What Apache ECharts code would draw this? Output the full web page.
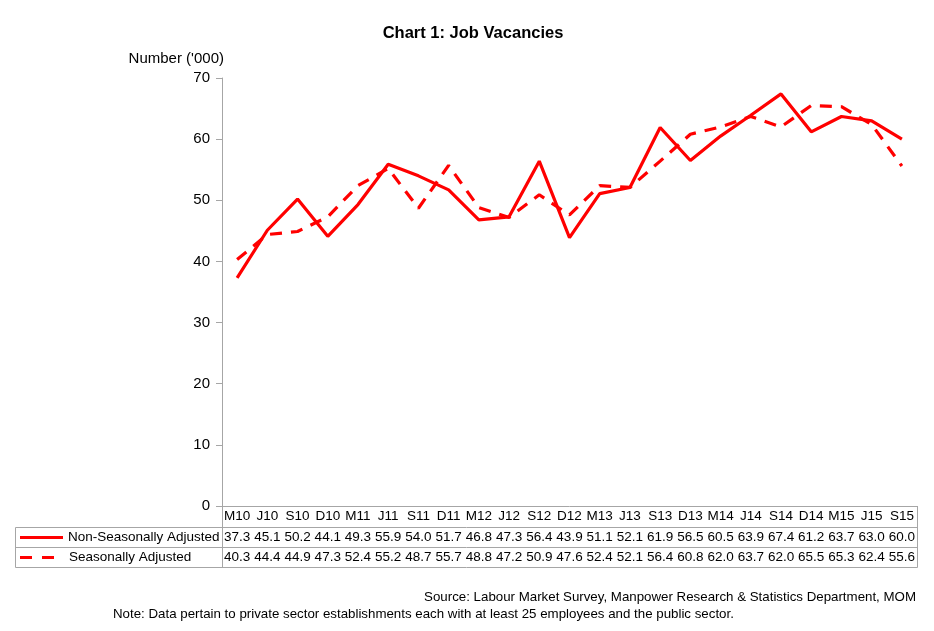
<!DOCTYPE html>
<html>
<head>
<meta charset="utf-8">
<script src="https://cdn.jsdelivr.net/npm/echarts@6/dist/echarts.min.js"></script>
<style>
html,body{margin:0;padding:0;background:#fff;}
#chart{width:934px;height:631px;}
</style>
</head>
<body>
<div id="chart"></div>
<script>
const categories = ['M10','J10','S10','D10','M11','J11','S11','D11','M12','J12','S12','D12','M13','J13','S13','D13','M14','J14','S14','D14','M15','J15','S15'];
const nonSeasonallyAdjusted = [37.3,45.1,50.2,44.1,49.3,55.9,54.0,51.7,46.8,47.3,56.4,43.9,51.1,52.1,61.9,56.5,60.5,63.9,67.4,61.2,63.7,63.0,60.0];
const seasonallyAdjusted = [40.3,44.4,44.9,47.3,52.4,55.2,48.7,55.7,48.8,47.2,50.9,47.6,52.4,52.1,56.4,60.8,62.0,63.7,62.0,65.5,65.3,62.4,55.6];
const yTicks = [0,10,20,30,40,50,60,70];

const FONT = '"Liberation Sans", Arial, sans-serif';
const GRAY = '#a6a6a6';
const RED = '#ff0000';

const chart = echarts.init(document.getElementById('chart'));
chart.setOption({
  animation: false,
  backgroundColor: '#fff',
  textStyle: { fontFamily: FONT, color: '#000' },
  graphic: [
    // title
    { type: 'text', x: 473, y: 33, style: { text: 'Chart 1: Job Vacancies', font: 'bold 16.5px ' + FONT, fill: '#000', align: 'center', textAlign: 'center', verticalAlign: 'middle', textVerticalAlign: 'middle' } },
    // table lines
    { type: 'line', shape: { x1: 15.5, y1: 527.5, x2: 917.5, y2: 527.5 }, style: { stroke: GRAY, lineWidth: 1 } },
    { type: 'line', shape: { x1: 15.5, y1: 547.5, x2: 917.5, y2: 547.5 }, style: { stroke: GRAY, lineWidth: 1 } },
    { type: 'line', shape: { x1: 15.5, y1: 567.5, x2: 917.5, y2: 567.5 }, style: { stroke: GRAY, lineWidth: 1 } },
    { type: 'line', shape: { x1: 15.5, y1: 527.5, x2: 15.5, y2: 567.5 }, style: { stroke: GRAY, lineWidth: 1 } },
    { type: 'line', shape: { x1: 222.5, y1: 506, x2: 222.5, y2: 567.5 }, style: { stroke: GRAY, lineWidth: 1 } },
    { type: 'line', shape: { x1: 917.5, y1: 506, x2: 917.5, y2: 567.5 }, style: { stroke: GRAY, lineWidth: 1 } },
    // legend keys
    { type: 'line', shape: { x1: 20, y1: 537.5, x2: 63, y2: 537.5 }, style: { stroke: RED, lineWidth: 3 } },
    { type: 'line', shape: { x1: 20, y1: 557.5, x2: 63, y2: 557.5 }, style: { stroke: RED, lineWidth: 3, lineDash: [12, 10] } },
    { type: 'text', x: 68, y: 537.5, style: { text: 'Non-Seasonally Adjusted', font: '13.5px ' + FONT, fill: '#000', textVerticalAlign: 'middle', verticalAlign: 'middle' } },
    { type: 'text', x: 69, y: 557.5, style: { text: 'Seasonally Adjusted', font: '13.5px ' + FONT, fill: '#000', textVerticalAlign: 'middle', verticalAlign: 'middle' } },
    // footnotes
    { type: 'text', x: 916, y: 597, style: { text: 'Source: Labour Market Survey, Manpower Research & Statistics Department, MOM', font: '13.3px ' + FONT, fill: '#000', align: 'right', textAlign: 'right', verticalAlign: 'middle', textVerticalAlign: 'middle' } },
    { type: 'text', x: 113, y: 614, style: { text: 'Note: Data pertain to private sector establishments each with at least 25 employees and the public sector.', font: '13.3px ' + FONT, fill: '#000', verticalAlign: 'middle', textVerticalAlign: 'middle' } }
  ],
  grid: { left: 222, right: 17, top: 78, bottom: 125, containLabel: false },
  xAxis: {
    type: 'category',
    data: categories,
    boundaryGap: true,
    axisLine: { lineStyle: { color: GRAY, width: 1 } },
    axisTick: { show: false },
    splitLine: { show: false },
    axisLabel: {
      interval: 0,
      margin: 0,
      color: '#000',
      fontFamily: FONT,
      formatter: function (value, idx) {
        return '{c|' + value + '}\n{v|' + nonSeasonallyAdjusted[idx].toFixed(1) + '}\n{v|' + seasonallyAdjusted[idx].toFixed(1) + '}';
      },
      rich: {
        c: { fontSize: 13.5, lineHeight: 21, fontFamily: FONT, color: '#000' },
        v: { fontSize: 13.5, lineHeight: 20.5, fontFamily: FONT, color: '#000' }
      }
    }
  },
  yAxis: {
    type: 'value',
    min: yTicks[0], max: yTicks[yTicks.length - 1], interval: 10,
    name: "Number ('000)",
    nameLocation: 'end',
    nameGap: 12,
    nameTextStyle: { align: 'right', verticalAlign: 'bottom', fontSize: 15, fontFamily: FONT, color: '#000', padding: [0, -2, 0, 0] },
    axisLine: { show: true, lineStyle: { color: GRAY, width: 1 } },
    axisTick: { show: true, inside: false, length: 6, lineStyle: { color: GRAY } },
    splitLine: { show: false },
    axisLabel: { fontSize: 15, margin: 12, color: '#000', fontFamily: FONT }
  },
  series: [
    {
      name: 'Non-Seasonally Adjusted', type: 'line', data: nonSeasonallyAdjusted,
      symbol: 'none', lineStyle: { color: RED, width: 3.2 }, itemStyle: { color: RED }
    },
    {
      name: 'Seasonally Adjusted', type: 'line', data: seasonallyAdjusted,
      symbol: 'none', lineStyle: { color: RED, width: 3.2, type: [12, 9] }, itemStyle: { color: RED }
    }
  ]
});
</script>
</body>
</html>
